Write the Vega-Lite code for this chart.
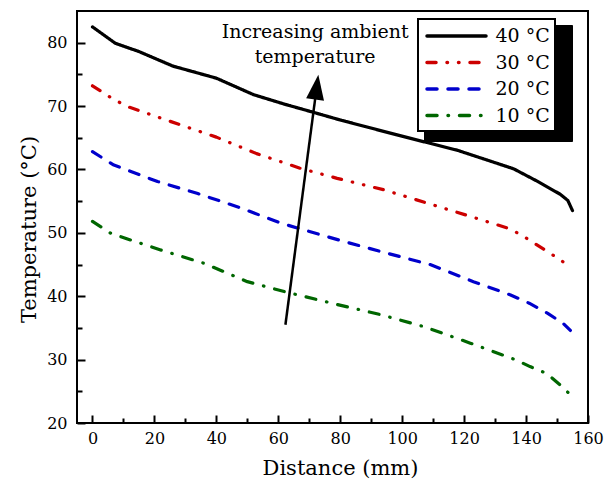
{
  "$schema": "https://vega.github.io/schema/vega-lite/v6.json",
  "width": 511,
  "height": 412,
  "autosize": "none",
  "padding": {"left": 77, "top": 11, "right": 18, "bottom": 56},
  "background": "white",
  "config": {
    "font": "DejaVu Serif",
    "view": {"stroke": "black", "strokeWidth": 2},
    "axis": {"domain": false, "grid": false, "tickColor": "black", "labelColor": "black", "titleColor": "black", "labelFontSize": 16, "titleFontSize": 21, "titleFontWeight": "normal"},
    "legend": {"labelFontSize": 19, "labelColor": "black"}
  },
  "resolve": {"axis": {"x": "independent", "y": "independent"}},
  "datasets": {
    "series": [
      {"s": "40 °C", "d": 0, "t": 82.5}, {"s": "40 °C", "d": 7.4, "t": 79.9}, {"s": "40 °C", "d": 15, "t": 78.6}, {"s": "40 °C", "d": 26, "t": 76.3}, {"s": "40 °C", "d": 40, "t": 74.4}, {"s": "40 °C", "d": 52, "t": 71.8}, {"s": "40 °C", "d": 62, "t": 70.3}, {"s": "40 °C", "d": 70, "t": 69.2}, {"s": "40 °C", "d": 80, "t": 67.8}, {"s": "40 °C", "d": 98, "t": 65.5}, {"s": "40 °C", "d": 118, "t": 63.0}, {"s": "40 °C", "d": 136, "t": 60.1}, {"s": "40 °C", "d": 143.4, "t": 58.2}, {"s": "40 °C", "d": 151, "t": 56.1}, {"s": "40 °C", "d": 153.5, "t": 55.1}, {"s": "40 °C", "d": 155, "t": 53.5},
      {"s": "30 °C", "d": 0, "t": 73.2}, {"s": "30 °C", "d": 7, "t": 71.0}, {"s": "30 °C", "d": 12, "t": 69.8}, {"s": "30 °C", "d": 28, "t": 67.1}, {"s": "30 °C", "d": 40, "t": 65.1}, {"s": "30 °C", "d": 53, "t": 62.5}, {"s": "30 °C", "d": 67, "t": 60.2}, {"s": "30 °C", "d": 79, "t": 58.6}, {"s": "30 °C", "d": 94, "t": 56.8}, {"s": "30 °C", "d": 108, "t": 54.7}, {"s": "30 °C", "d": 122, "t": 52.6}, {"s": "30 °C", "d": 135, "t": 50.6}, {"s": "30 °C", "d": 141, "t": 48.9}, {"s": "30 °C", "d": 147, "t": 47.0}, {"s": "30 °C", "d": 151, "t": 45.8}, {"s": "30 °C", "d": 154, "t": 44.6},
      {"s": "20 °C", "d": 0, "t": 62.8}, {"s": "20 °C", "d": 6.9, "t": 60.7}, {"s": "20 °C", "d": 21, "t": 58.1}, {"s": "20 °C", "d": 34, "t": 56.2}, {"s": "20 °C", "d": 48, "t": 53.9}, {"s": "20 °C", "d": 61, "t": 51.5}, {"s": "20 °C", "d": 73, "t": 49.8}, {"s": "20 °C", "d": 80, "t": 48.8}, {"s": "20 °C", "d": 95, "t": 46.8}, {"s": "20 °C", "d": 109, "t": 45.0}, {"s": "20 °C", "d": 123, "t": 42.3}, {"s": "20 °C", "d": 135, "t": 40.2}, {"s": "20 °C", "d": 141, "t": 38.9}, {"s": "20 °C", "d": 147, "t": 37.3}, {"s": "20 °C", "d": 152, "t": 35.7}, {"s": "20 °C", "d": 154.3, "t": 34.6},
      {"s": "10 °C", "d": 0, "t": 51.8}, {"s": "10 °C", "d": 6, "t": 49.9}, {"s": "10 °C", "d": 22, "t": 47.3}, {"s": "10 °C", "d": 36, "t": 45.2}, {"s": "10 °C", "d": 50, "t": 42.3}, {"s": "10 °C", "d": 63, "t": 40.6}, {"s": "10 °C", "d": 79, "t": 38.7}, {"s": "10 °C", "d": 93, "t": 37.1}, {"s": "10 °C", "d": 107, "t": 35.2}, {"s": "10 °C", "d": 122, "t": 32.6}, {"s": "10 °C", "d": 137, "t": 29.9}, {"s": "10 °C", "d": 141.3, "t": 28.9}, {"s": "10 °C", "d": 146.7, "t": 27.8}, {"s": "10 °C", "d": 151.5, "t": 25.8}, {"s": "10 °C", "d": 154.4, "t": 24.4}
    ],
    "arrow": [{"x1": 62.3, "y1": 35.5, "x2": 72.4, "y2": 73.0}],
    "labels": [
      {"x": 71.9, "y": 80.8, "text": "Increasing ambient"},
      {"x": 71.9, "y": 76.85, "text": "temperature"}
    ],
    "shadow": [{"k": "a"}]
  },
  "layer": [
    {
      "data": {"name": "shadow"},
      "mark": {"type": "point", "opacity": 0, "color": "black", "filled": true},
      "encoding": {
        "shape": {"field": "k", "type": "nominal", "scale": {"range": ["square"]},
          "legend": {"title": null, "orient": "none", "legendX": 347, "legendY": 14, "zindex": 0, "symbolType": "square", "symbolSize": 10404, "symbolOffset": 0, "symbolFillColor": "black", "symbolStrokeColor": "black", "symbolOpacity": 1, "labelOffset": 34, "padding": 5, "strokeColor": "black", "fillColor": "black", "labelColor": "black",
            "labelExpr": "''",
            "encode": {"legend": {"update": {"strokeWidth": {"value": 2}}}}}}
      }
    },
    {
      "data": {"name": "series"},
      "mark": {"type": "line", "strokeWidth": 3.2, "strokeCap": "round", "strokeJoin": "round"},
      "encoding": {
        "x": {"field": "d", "type": "quantitative", "scale": {"domain": [-5, 160], "nice": false, "zero": false},
          "axis": {"title": "Distance (mm)", "orient": "bottom", "values": [0, 20, 40, 60, 80, 100, 120, 140, 160],
            "offset": -8, "tickSize": 8, "tickWidth": 2, "labelPadding": 7, "labelFlush": false, "titleX": 263, "titleY": 59, "titleBaseline": "alphabetic"}},
        "y": {"field": "t", "type": "quantitative", "scale": {"domain": [20, 85], "nice": false, "zero": false},
          "axis": {"title": "Temperature (°C)", "orient": "left", "values": [20, 30, 40, 50, 60, 70, 80],
            "offset": -8, "tickSize": 8, "tickWidth": 2, "labelPadding": 10, "labelFlush": false, "titleX": -50, "titleY": 218, "titleBaseline": "alphabetic"}},
        "color": {"field": "s", "type": "nominal", "scale": {"domain": ["40 °C", "30 °C", "20 °C", "10 °C"], "range": ["#000000", "#cc0000", "#0000cc", "#006600"]},
          "legend": {"title": null, "orient": "none", "legendX": 341, "legendY": 8, "zindex": 1, "symbolType": "M-2.95,0H2.95", "symbolSize": 400, "symbolOffset": 21.5, "symbolStrokeWidth": 3.5, "symbolFillColor": "transparent", "labelOffset": 27, "rowPadding": 4.5, "padding": 5, "strokeColor": "black", "fillColor": "white",
            "labelExpr": "datum.label + '   '",
            "encode": {"symbols": {"update": {"strokeCap": {"value": "round"}}}, "legend": {"update": {"strokeWidth": {"value": 2}}}}}},
        "strokeDash": {"field": "s", "type": "nominal", "scale": {"domain": ["40 °C", "30 °C", "20 °C", "10 °C"], "range": [[1, 0], [9, 11, 0.5, 11, 0.5, 11], [10, 11], [10, 11, 0.5, 11]]}, "legend": null}
      }
    },
    {
      "data": {"name": "arrow"},
      "mark": {"type": "rule", "strokeWidth": 2.5, "color": "black"},
      "encoding": {"x": {"field": "x1", "type": "quantitative", "axis": null}, "y": {"field": "y1", "type": "quantitative", "axis": null}, "x2": {"field": "x2"}, "y2": {"field": "y2"}}
    },
    {
      "data": {"name": "arrow"},
      "mark": {"type": "point", "shape": "M0,-1L0.72,1L-0.72,1Z", "size": 625, "filled": true, "color": "black", "opacity": 1, "angle": 7.5},
      "encoding": {
        "x": {"field": "x2", "type": "quantitative", "axis": {"orient": "bottom", "values": [10, 30, 50, 70, 90, 110, 130, 150], "labels": false, "title": null, "offset": -5, "tickSize": 5, "tickWidth": 2}},
        "y": {"field": "y2", "type": "quantitative", "axis": {"orient": "left", "values": [25, 35, 45, 55, 65, 75], "labels": false, "title": null, "offset": -5, "tickSize": 5, "tickWidth": 2}}
      }
    },
    {
      "data": {"name": "labels"},
      "mark": {"type": "text", "fontSize": 19, "align": "center", "baseline": "alphabetic", "color": "black"},
      "encoding": {"x": {"field": "x", "type": "quantitative", "axis": null}, "y": {"field": "y", "type": "quantitative", "axis": null}, "text": {"field": "text"}}
    }
  ]
}
